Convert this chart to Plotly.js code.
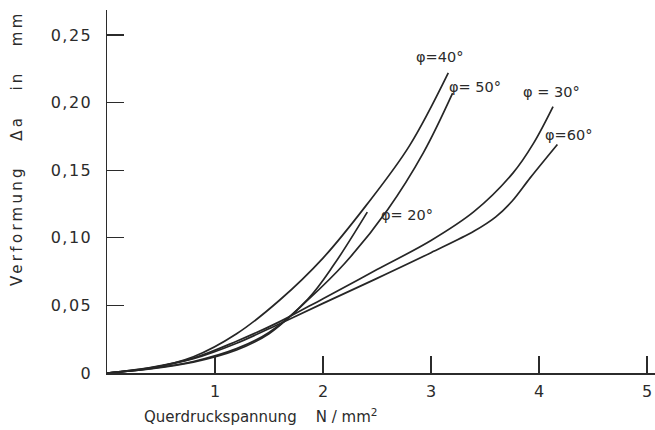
<!DOCTYPE html>
<html><head><meta charset="utf-8">
<script src="https://cdn.plot.ly/plotly-3.0.1.min.js"></script>
<style>
html,body{margin:0;padding:0;background:#fff;}
#chart{width:655px;height:430px;}
.ytick text{letter-spacing:1.5px;}
</style></head><body><div id="chart"></div>
<script>
// Querdruckspannung (N/mm²) and Verformung Δa (mm) per angle φ
const x20 = [0, 0.4, 0.8, 1.2, 1.5, 1.86, 2.1, 2.41];
const y20 = [0, 0.0032, 0.0085, 0.018, 0.030, 0.0547, 0.080, 0.119];
const x30 = [0, 0.4, 0.8, 1.2, 1.6, 2.0, 2.5, 3.0, 3.4, 3.76, 3.95, 4.13];
const y30 = [0, 0.004, 0.011, 0.0235, 0.038, 0.055, 0.0765, 0.098, 0.1195, 0.148, 0.170, 0.197];
const x40 = [0, 0.4, 0.8, 1.2, 1.6, 2.0, 2.4, 2.8, 3.16];
const y40 = [0, 0.0035, 0.012, 0.029, 0.054, 0.085, 0.124, 0.168, 0.222];
const x50 = [0, 0.4, 0.8, 1.2, 1.5, 1.86, 2.2, 2.6, 2.93, 3.2];
const y50 = [0, 0.003, 0.008, 0.017, 0.029, 0.054, 0.081, 0.121, 0.163, 0.207];
const x60 = [0, 0.4, 0.8, 1.2, 1.6, 2.0, 2.5, 3.0, 3.4, 3.6, 3.75, 3.92, 4.17];
const y60 = [0, 0.0038, 0.0105, 0.022, 0.0365, 0.0515, 0.070, 0.089, 0.105, 0.1155, 0.127, 0.1445, 0.169];

const curveLabels = ["φ=40°", "φ= 50°", "φ = 30°", "φ=60°", "φ= 20°"];
const labelX = [3.08, 3.41, 4.12, 4.27, 2.78];
const labelY = [0.234, 0.2115, 0.208, 0.176, 0.117];

const xTickVals = [1, 2, 3, 4, 5];
const xTickText = ["1", "2", "3", "4", "5"];
const yTickVals = [0, 0.05, 0.10, 0.15, 0.20, 0.25];
const yTickText = ["0", "0,05", "0,10", "0,15", "0,20", "0,25"];

const xTitle = 'Querdruckspannung\u00a0\u00a0\u00a0\u00a0N / mm<sup>2</sup>';
const yTitle = '<span style="letter-spacing:3.3px">Verformung\u00a0\u00a0\u00a0Δa\u00a0\u00a0\u00a0in\u00a0\u00a0\u00a0mm</span>';

const lineStyle = {color: '#262626', width: 1.7, shape: 'spline', smoothing: 1};
const series = [[x20, y20], [x30, y30], [x40, y40], [x50, y50], [x60, y60]];
const traces = series.map(s => ({
  x: s[0], y: s[1], type: 'scatter', mode: 'lines',
  line: lineStyle, hoverinfo: 'skip', showlegend: false
}));

const font = {family: 'DejaVu Sans, sans-serif', color: '#2b2b2b'};
const annotations = curveLabels.map((t, i) => ({
  x: labelX[i], y: labelY[i], xref: 'x', yref: 'y', text: t, showarrow: false,
  font: Object.assign({}, font, {size: 14.5}), xanchor: 'center', yanchor: 'middle'
}));
annotations.push({
  x: 1.42, y: -0.118, xref: 'x', yref: 'paper', text: xTitle, showarrow: false,
  font: Object.assign({}, font, {size: 15}), xanchor: 'center', yanchor: 'middle'
});
annotations.push({
  x: -0.164, y: 0.62, xref: 'paper', yref: 'paper', text: yTitle, showarrow: false,
  textangle: -90, font: Object.assign({}, font, {size: 15}), xanchor: 'center', yanchor: 'middle'
});

const layout = {
  width: 655, height: 430,
  margin: {l: 107, r: 0, t: 10, b: 57, pad: 0},
  paper_bgcolor: '#fff', plot_bgcolor: '#fff',
  showlegend: false,
  xaxis: {
    range: [0, 5.074], showgrid: false, zeroline: false,
    showline: true, linecolor: '#2b2b2b', linewidth: 1.5,
    ticks: 'inside', ticklen: 17, tickwidth: 1.3, tickcolor: '#2b2b2b',
    tickmode: 'array', tickvals: xTickVals, ticktext: xTickText,
    tickfont: Object.assign({}, font, {size: 16}), ticklabelstandoff: 3
  },
  yaxis: {
    range: [0, 0.2685], showgrid: false, zeroline: false,
    showline: true, linecolor: '#2b2b2b', linewidth: 1.5,
    ticks: 'inside', ticklen: 17, tickwidth: 1.3, tickcolor: '#2b2b2b',
    tickmode: 'array', tickvals: yTickVals, ticktext: yTickText,
    tickfont: Object.assign({}, font, {size: 16}), ticklabelstandoff: 10
  },
  annotations: annotations
};

Plotly.newPlot('chart', traces, layout, {staticPlot: true, displayModeBar: false});
</script></body></html>
